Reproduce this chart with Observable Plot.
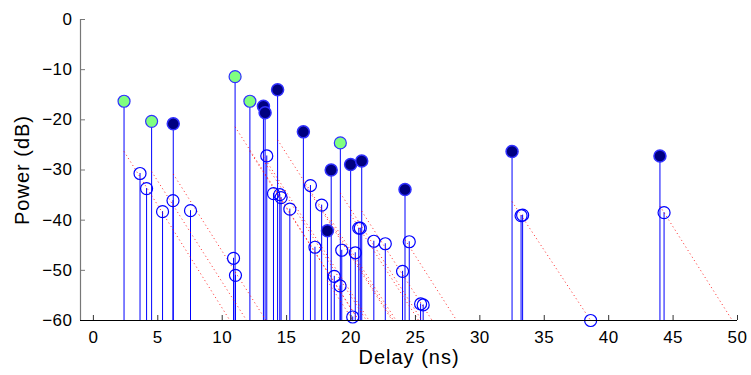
<!DOCTYPE html>
<html><head><meta charset="utf-8">
<script src="https://cdn.jsdelivr.net/npm/d3@7"></script>
<script src="https://cdn.jsdelivr.net/npm/@observablehq/plot@0.6"></script>
<style>body{margin:0;background:#fff} svg{display:block}</style>
</head><body><div id="chart"></div>
<script>
// Rays (hollow markers)
const rayDelay = [3.62, 4.13, 5.37, 6.18, 7.54, 10.88, 11.03, 13.46, 13.98, 14.47, 14.57, 15.25, 16.85, 17.2, 17.72, 18.7, 19.15, 19.28, 20.13, 20.33, 20.6, 20.72, 21.77, 22.66, 24.0, 24.52, 25.4, 25.6, 33.2, 33.32, 38.6, 44.3];
const rayPower = [-30.7, -33.7, -38.3, -36.1, -38.1, -47.6, -51.0, -27.2, -34.7, -34.9, -35.5, -37.8, -33.1, -45.4, -37.0, -51.2, -53.1, -46.0, -59.3, -46.5, -41.6, -41.6, -44.2, -44.7, -50.2, -44.3, -56.7, -56.9, -39.1, -39.0, -60.0, -38.5];
// Cluster heads (filled green)
const greenDelay = [2.38, 4.52, 11.0, 12.15, 19.17];
const greenPower = [-16.3, -20.3, -11.4, -16.3, -24.6];
// Cluster heads (filled navy)
const navyDelay = [6.2, 13.2, 13.33, 14.3, 16.3, 18.17, 18.46, 19.97, 20.83, 24.19, 32.5, 43.98];
const navyPower = [-20.8, -17.3, -18.6, -14.0, -22.4, -42.1, -30.0, -28.9, -28.2, -33.9, -26.3, -27.2];
// Decay envelopes (dotted red): start delay, start power, delay where they reach -60 dB
const decayStart = [2.38, 4.52, 6.2, 11.0, 12.15, 13.2, 13.33, 14.3, 16.3, 18.17, 18.46, 19.17, 19.97, 20.83, 24.19, 32.5, 43.98];
const decayStartPower = [-26.3, -30.3, -30.8, -21.4, -26.3, -27.3, -28.6, -24.0, -32.4, -52.1, -40.0, -34.6, -38.9, -38.2, -43.9, -36.3, -37.2];
const decayEnd = [10.6, 11.9, 13.4, 20.6, 20.6, 21.4, 21.2, 23.3, 23.2, 20.15, 23.5, 25.5, 25.25, 26.3, 28.2, 38.6, 49.6];
const xTicks = [0, 5, 10, 15, 20, 25, 30, 35, 40, 45, 50];
const yTicks = [0, -10, -20, -30, -40, -50, -60];
const xLabel = "Delay (ns)";
const yLabel = "Power (dB)";
const floor = -60;

const W = 751, H = 375, mL = 80, mR = 14, mT = 19, mB = 55;
const fw = W - mL - mR, fh = H - mT - mB;

const rays = rayDelay.map((x, i) => ({x, y: rayPower[i]}));
const greens = greenDelay.map((x, i) => ({x, y: greenPower[i]}));
const navies = navyDelay.map((x, i) => ({x, y: navyPower[i]}));
const stems = [...rays, ...greens, ...navies];
const decays = decayStart.map((x, i) => ({x1: x, y1: decayStartPower[i], x2: decayEnd[i]}));

const chart = Plot.plot({
  width: W, height: H,
  marginLeft: mL, marginRight: mR, marginTop: mT, marginBottom: mB,
  style: {fontFamily: "'Liberation Sans', Arial, sans-serif", fontSize: "17px", background: "white", color: "black", letterSpacing: "0.5px"},
  x: {domain: [-1, 50]},
  y: {domain: [-60, 0]},
  marks: [
    Plot.ruleX(stems, {x: "x", y1: floor, y2: "y", stroke: "#0000ff", strokeWidth: 1}),
    Plot.link(decays, {x1: "x1", y1: "y1", x2: "x2", y2: floor, stroke: "#ff0000", strokeWidth: 1, strokeDasharray: "1 3", strokeOpacity: 0.85}),
    Plot.dot(rays, {x: "x", y: "y", r: 6, stroke: "#0000ff", strokeWidth: 1.2, fill: "none"}),
    Plot.dot(navies, {x: "x", y: "y", r: 6, stroke: "#3030ff", strokeWidth: 1.5, fill: "#000080"}),
    Plot.dot(greens, {x: "x", y: "y", r: 6, stroke: "#3030ff", strokeWidth: 1.2, fill: "#80ff80"}),
    Plot.tickY(yTicks, {y: d => d, insetRight: fw - 5, stroke: "#777"}),
    Plot.tickX(xTicks, {x: d => d, insetTop: fh - 5, stroke: "#333"}),
    Plot.ruleX([-1], {stroke: "#777", strokeWidth: 1.2}),
    Plot.ruleY([floor], {stroke: "#000", strokeWidth: 1.2}),
    Plot.axisX({ticks: xTicks, tickSize: 0, tickPadding: 10, label: null, fontSize: 17}),
    Plot.axisY({ticks: yTicks, tickSize: 0, tickPadding: 8, label: null, fontSize: 17}),
    Plot.text([xLabel], {frameAnchor: "bottom", textAnchor: "middle", dy: 37, lineAnchor: "middle", fontSize: 20}),
    Plot.text([yLabel], {frameAnchor: "left", textAnchor: "middle", dx: -58, rotate: -90, lineAnchor: "middle", fontSize: 20})
  ]
});
// widen the axis titles a little, as in the reference
d3.select(chart).selectAll("text").filter(function() { return this.textContent === xLabel || this.textContent === yLabel; }).attr("letter-spacing", "1px");
document.getElementById("chart").append(chart);
</script>
</body></html>
